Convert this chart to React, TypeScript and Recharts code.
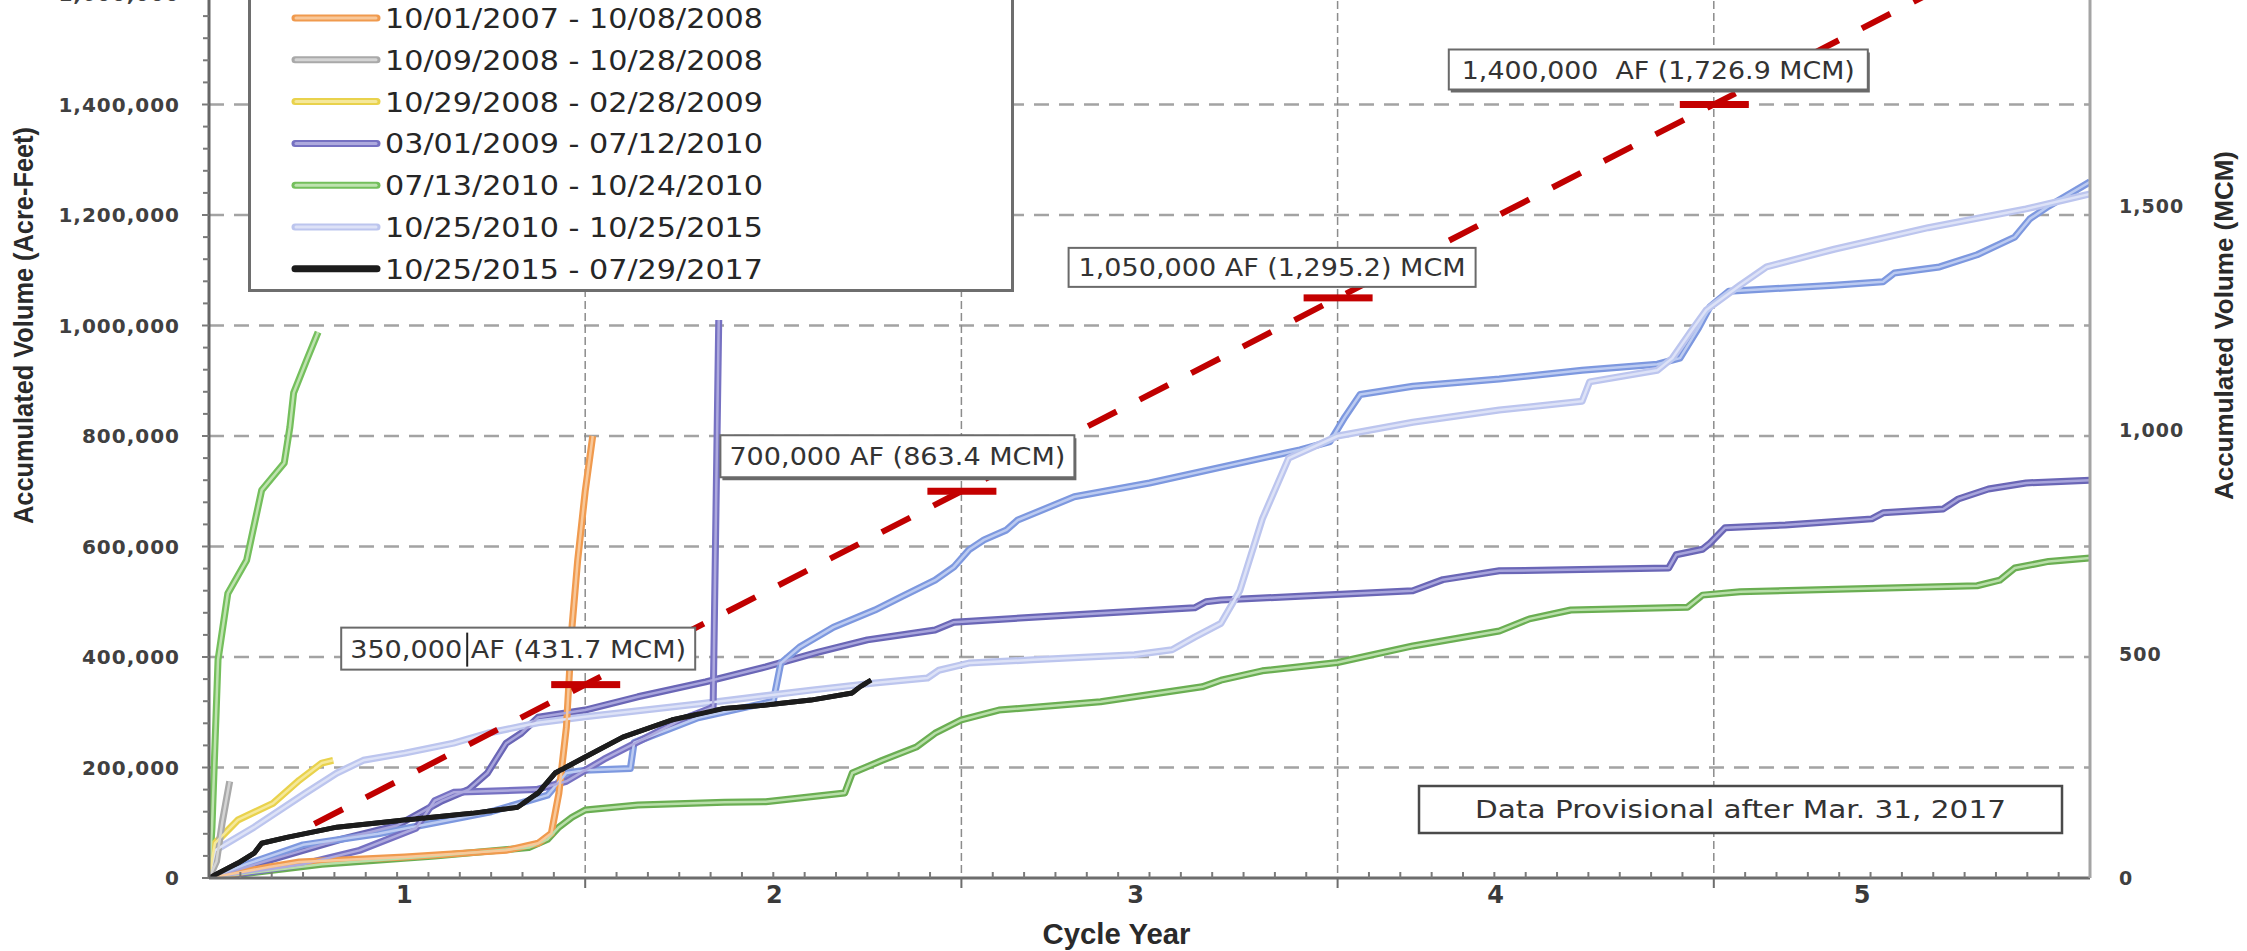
import React from "react";
import {
  ComposedChart,
  Line,
  XAxis,
  YAxis,
  CartesianGrid,
  Legend,
  Scatter,
  ReferenceDot,
  Label,
} from "recharts";

type Pt = { t: number; v: number };
const P = (pairs: number[][]): Pt[] => pairs.map(([t, v]) => ({ t, v }));

// ---------- data (cycle year, acre-feet) ----------
const orangeData = P([
  [0, 0], [0.08, 10000], [0.16, 20000], [0.24, 29000], [0.52, 38000], [0.79, 50000],
  [0.875, 63000], [0.91, 81000], [0.93, 153000], [0.95, 273000], [0.965, 455000],
  [0.98, 575000], [1.0, 700000], [1.02, 800000],
]);
const grayData = P([[0, 0], [0.02, 30000], [0.035, 100000], [0.055, 175000]]);
const yellowData = P([
  [0, 0], [0.01, 40000], [0.016, 63000], [0.077, 105000], [0.17, 135000],
  [0.24, 177000], [0.3, 208000], [0.33, 213000],
]);
const purpleData = P([
  [0, 0], [0.1, 10000], [0.25, 25000], [0.4, 50000], [0.55, 90000], [0.6, 140000],
  [0.65, 155000], [0.87, 160000], [0.95, 175000], [1.05, 215000], [1.15, 250000],
  [1.25, 285000], [1.34, 309000], [1.355, 1010000],
]);
const greenData = P([
  [0, 0], [0.008, 92000], [0.024, 395000], [0.05, 515000], [0.1, 575000], [0.14, 702000],
  [0.2, 751000], [0.215, 816000], [0.225, 878000], [0.26, 938000], [0.29, 988000],
]);
const lavenderData = P([
  [0, 0], [0.016, 50000], [0.12, 92000], [0.255, 153000], [0.34, 190000], [0.41, 213000],
  [0.52, 226000], [0.65, 244000], [0.74, 262000], [0.875, 281000], [1.0, 292000],
  [1.3, 315000], [1.6, 340000], [1.77, 353000], [1.91, 362000], [1.94, 376000],
  [2.02, 389000], [2.19, 395000], [2.46, 404000], [2.56, 413000], [2.62, 436000],
  [2.69, 461000], [2.74, 520000], [2.8, 650000], [2.87, 760000], [3.0, 800000],
  [3.2, 825000], [3.43, 847000], [3.65, 863000], [3.67, 898000], [3.85, 919000],
  [3.89, 941000], [3.94, 990000], [3.98, 1028000], [4.07, 1073000], [4.14, 1106000],
  [4.32, 1138000], [4.57, 1177000], [4.83, 1211000], [5.0, 1238000],
]);
const blackData = P([
  [0, 0], [0.077, 27000], [0.12, 45000], [0.14, 63000], [0.21, 74000], [0.34, 92000],
  [0.52, 105000], [0.7, 117000], [0.82, 128000], [0.875, 154000], [0.92, 190000],
  [1.0, 219000], [1.1, 255000], [1.23, 286000], [1.37, 307000], [1.48, 313000],
  [1.6, 322000], [1.71, 335000], [1.73, 346000], [1.76, 358000],
]);
// cycles whose legend entries lie above the visible part of the legend
const blueData = P([
  [0, 0], [0.1, 25000], [0.25, 60000], [0.45, 80000], [0.6, 100000], [0.75, 120000],
  [0.9, 150000], [0.95, 190000], [1.0, 195000], [1.12, 198000], [1.13, 245000],
  [1.3, 290000], [1.5, 320000], [1.52, 389000], [1.57, 418000], [1.66, 454000],
  [1.77, 485000], [1.84, 509000], [1.93, 539000], [1.98, 563000], [2.02, 594000],
  [2.06, 612000], [2.12, 630000], [2.15, 648000], [2.3, 690000], [2.5, 715000],
  [2.7, 745000], [2.9, 775000], [2.98, 790000], [3.02, 835000], [3.06, 875000],
  [3.2, 890000], [3.43, 903000], [3.65, 919000], [3.85, 930000], [3.91, 941000],
  [3.96, 996000], [3.99, 1034000], [4.04, 1062000], [4.32, 1073000], [4.45, 1079000],
  [4.48, 1095000], [4.6, 1106000], [4.7, 1128000], [4.8, 1160000], [4.84, 1193000],
  [4.89, 1216000], [5.0, 1260000],
]);
const longPurpleData = P([
  [0, 0], [0.1, 20000], [0.2, 40000], [0.35, 70000], [0.5, 95000], [0.62, 140000],
  [0.69, 160000], [0.74, 190000], [0.79, 244000], [0.83, 262000], [0.875, 291000],
  [1.0, 304000], [1.14, 328000], [1.32, 355000], [1.48, 382000], [1.62, 409000],
  [1.75, 431000], [1.93, 449000], [1.98, 463000], [2.19, 472000], [2.37, 479000],
  [2.62, 489000], [2.65, 500000], [2.69, 503000], [2.9, 510000], [3.2, 520000],
  [3.28, 540000], [3.43, 556000], [3.88, 561000], [3.9, 585000], [3.97, 595000],
  [3.99, 606000], [4.03, 634000], [4.19, 639000], [4.42, 650000], [4.45, 661000],
  [4.61, 668000], [4.65, 686000], [4.73, 704000], [4.83, 715000], [5.0, 720000],
]);
const longGreenData = P([
  [0, 0], [0.3, 25000], [0.6, 40000], [0.85, 55000], [0.9, 70000], [0.93, 92000],
  [0.965, 110000], [1.0, 123000], [1.14, 132000], [1.37, 137000], [1.48, 138000],
  [1.69, 154000], [1.71, 190000], [1.79, 213000], [1.88, 237000], [1.93, 262000],
  [2.0, 286000], [2.1, 304000], [2.37, 319000], [2.64, 346000], [2.69, 358000],
  [2.8, 375000], [3.0, 390000], [3.2, 420000], [3.43, 447000], [3.51, 469000],
  [3.62, 485000], [3.93, 490000], [3.97, 512000], [4.07, 518000], [4.7, 529000],
  [4.76, 539000], [4.8, 561000], [4.89, 573000], [5.0, 579000],
]);
const targetLineData = P([[0.28, 98000], [5.0, 1750000]]);
const targetValues = [
  { t: 1, v: 350000, label: "350,000 AF (431.7 MCM)" },
  { t: 2, v: 700000, label: "700,000 AF (863.4 MCM)" },
  { t: 3, v: 1050000, label: "1,050,000 AF (1,295.2) MCM" },
  { t: 4, v: 1400000, label: "1,400,000  AF (1,726.9 MCM)" },
];
const provisionalNote = { t: 3.2164, v: 166500, label: "Data Provisional after Mar. 31, 2017" };

// ---------- axes ----------
const xTickLabels = ["1", "2", "3", "4", "5"];
const xLabelPositions = [0.519, 1.503, 2.463, 3.42, 4.394];
const xGridValues = [1, 2, 3, 4];
const monthTicks = Array.from({ length: 59 }, (_, k) => (k + 1) / 12);
const xTicks = [...monthTicks, ...xLabelPositions];

const yLeftTickValues = [0, 200000, 400000, 600000, 800000, 1000000, 1200000, 1400000, 1600000];
const yLeftTickLabels = ["0", "200,000", "400,000", "600,000", "800,000", "1,000,000", "1,200,000", "1,400,000", "1,600,000"];
const yMinorTicks = Array.from({ length: 51 }, (_, k) => k * 40000).filter((v) => v % 200000 !== 0);
const yLeftTicks = [...yLeftTickValues, ...yMinorTicks];
const yGridValues = [200000, 400000, 600000, 800000, 1000000, 1200000, 1400000, 1600000, 1800000];
const yRightTickValues = [0, 500, 1000, 1500];
const yRightTickLabels = ["0", "500", "1,000", "1,500"];

// ---------- styles ----------
type Series = { name: string; data: Pt[]; outer: string; inner: string; single?: boolean };
const legendSeries: Series[] = [
  { name: "10/01/2007 - 10/08/2008", data: orangeData, outer: "#f09a4e", inner: "#f8c89a" },
  { name: "10/09/2008 - 10/28/2008", data: grayData, outer: "#a9a9a9", inner: "#d4d4d4" },
  { name: "10/29/2008 - 02/28/2009", data: yellowData, outer: "#e9d24c", inner: "#f5e89a" },
  { name: "03/01/2009 - 07/12/2010", data: purpleData, outer: "#7671c2", inner: "#aeaade" },
  { name: "07/13/2010 - 10/24/2010", data: greenData, outer: "#74bf5c", inner: "#bfe3b0" },
  { name: "10/25/2010 - 10/25/2015", data: lavenderData, outer: "#bcc5ee", inner: "#dde2f7" },
  { name: "10/25/2015 - 07/29/2017", data: blackData, outer: "#1c1c1c", inner: "#1c1c1c", single: true },
];
const hiddenSeries: Series[] = [
  { name: "cycle-a", data: longGreenData, outer: "#6aae52", inner: "#b9dfaa" },
  { name: "cycle-b", data: longPurpleData, outer: "#6a66b6", inner: "#a8a5dc" },
  { name: "cycle-c", data: blueData, outer: "#7d98df", inner: "#bccbf1" },
];
const drawOrder: Series[] = [
  hiddenSeries[0], legendSeries[4], hiddenSeries[1], hiddenSeries[2], legendSeries[5],
  legendSeries[3], legendSeries[2], legendSeries[1], legendSeries[0], legendSeries[6],
];
const targetBoxStyles = [
  { dx: -244, dy: -57, w: 354, h: 42, tw: 336, shadow: false, cursor: 126 },
  { dx: -241, dy: -56, w: 354, h: 42, tw: 336, shadow: true, cursor: 0 },
  { dx: -269, dy: -50, w: 407, h: 39, tw: 387, shadow: false, cursor: 0 },
  { dx: -265, dy: -55, w: 419, h: 40, tw: 393, shadow: true, cursor: 0 },
];

const TEXT_FONT = "'DejaVu Sans', 'Liberation Sans', sans-serif";
const TITLE_FONT = "'Liberation Sans', Arial, sans-serif";
const W = 2247;
const H = 1178;

// ---------- renderers ----------
const XTick = (props: any) => {
  const { x, y, payload } = props;
  const v = payload.value;
  const li = xLabelPositions.indexOf(v);
  if (li >= 0) {
    return (
      <text x={x} y={y + 25} textAnchor="middle" fontFamily={TEXT_FONT} fontWeight="bold" fontSize={24} fill="#3a3a3a">
        {xTickLabels[li]}
      </text>
    );
  }
  if (Math.abs(v - Math.round(v)) < 1e-9) {
    return <line x1={x} x2={x} y1={y} y2={y + 10} stroke="#6d6d6d" strokeWidth={2} />;
  }
  return <line x1={x} x2={x} y1={y} y2={y - 6} stroke="#7a7a7a" strokeWidth={2} />;
};

const YLeftTick = (props: any) => {
  const { x, y, payload } = props;
  const v = payload.value;
  const li = yLeftTickValues.indexOf(v);
  if (li >= 0) {
    return (
      <g>
        <line x1={x - 7} x2={x} y1={y} y2={y} stroke="#7a7a7a" strokeWidth={2} />
        <text x={x - 29} y={y} dy="0.36em" textAnchor="end" fontFamily={TEXT_FONT} fontWeight="bold" fontSize={20} letterSpacing={1} fill="#404040">
          {yLeftTickLabels[li]}
        </text>
      </g>
    );
  }
  return <line x1={x - 6} x2={x} y1={y} y2={y} stroke="#7a7a7a" strokeWidth={2} />;
};

const YRightTick = (props: any) => {
  const { x, y, payload } = props;
  const li = yRightTickValues.indexOf(payload.value);
  return (
    <text x={x + 29} y={y} dy="0.36em" textAnchor="start" fontFamily={TEXT_FONT} fontWeight="bold" fontSize={19} letterSpacing={1} fill="#404040">
      {yRightTickLabels[li]}
    </text>
  );
};

const XTitle = (p: any) => {
  const vb = p.viewBox || { x: 209, y: 1105, width: 1881, height: 73 };
  return (
    <text x={vb.x + vb.width / 2 - 33} y={vb.y + 66} textAnchor="middle" fontFamily={TITLE_FONT} fontWeight="bold" fontSize={29} textLength={148} lengthAdjust="spacingAndGlyphs" fill="#2a2a2a">
      Cycle Year
    </text>
  );
};

const LeftTitle = (p: any) => {
  const vb = p.viewBox || { x: 0, y: 0, width: 209, height: 1105 };
  const cx = vb.x + 33;
  const cy = vb.y + vb.height / 2;
  return (
    <text x={cx} y={cy} transform={`rotate(-90 ${cx} ${cy})`} textAnchor="middle" fontFamily={TITLE_FONT} fontWeight="bold" fontSize={28} textLength={397} lengthAdjust="spacingAndGlyphs" fill="#2a2a2a">
      Accumulated Volume (Acre-Feet)
    </text>
  );
};

const RightTitle = (p: any) => {
  const vb = p.viewBox || { x: 2090, y: 0, width: 157, height: 1105 };
  const cx = vb.x + 143;
  const cy = vb.y + vb.height / 2;
  return (
    <text x={cx} y={cy} transform={`rotate(-90 ${cx} ${cy})`} textAnchor="middle" fontFamily={TITLE_FONT} fontWeight="bold" fontSize={26} textLength={349} lengthAdjust="spacingAndGlyphs" fill="#2a2a2a">
      Accumulated Volume (MCM)
    </text>
  );
};

const TargetShape = (props: any) => {
  const { cx, cy, payload } = props;
  const idx = targetValues.findIndex((d) => d.t === payload.t);
  const s = targetBoxStyles[idx] || targetBoxStyles[0];
  const bx = cx + s.dx;
  const by = cy + s.dy;
  return (
    <g>
      <rect x={cx - 34} y={cy - 3.5} width={69} height={7} fill="#c40000" />
      {s.shadow && <rect x={bx + 2} y={by + 3} width={s.w} height={s.h} fill="#6a6a6a" />}
      <rect x={bx} y={by} width={s.w} height={s.h} fill="#ffffff" stroke="#6a6a6a" strokeWidth={2} />
      <text x={bx + s.w / 2} y={by + s.h / 2 + 9} textAnchor="middle" fontFamily={TEXT_FONT} fontSize={25} textLength={s.tw} lengthAdjust="spacingAndGlyphs" fill="#333333" style={{ whiteSpace: "pre" }}>
        {payload.label}
      </text>
      {s.cursor > 0 && <line x1={bx + s.cursor} x2={bx + s.cursor} y1={by + 5} y2={by + s.h - 3} stroke="#222" strokeWidth={2} />}
    </g>
  );
};

const NoteShape = (props: any) => {
  const { cx, cy } = props;
  return (
    <g>
      <rect x={cx} y={cy} width={643} height={47} fill="#ffffff" stroke="#4a4a4a" strokeWidth={2.5} />
      <text x={cx + 321.5} y={cy + 32} textAnchor="middle" fontFamily={TEXT_FONT} fontSize={25} textLength={531} lengthAdjust="spacingAndGlyphs" fill="#333333">
        {provisionalNote.label}
      </text>
    </g>
  );
};

const LegendBox = () => (
  <svg width={766} height={342} style={{ display: "block" }}>
    <rect x={1.5} y={1.5} width={763} height={339} fill="#ffffff" stroke="#6e6e6e" strokeWidth={3} />
    {legendSeries.map((s, i) => {
      const cy = 68 + i * 41.8;
      return (
        <g key={s.name}>
          <line x1={47} x2={129} y1={cy} y2={cy} stroke={s.outer} strokeWidth={7} strokeLinecap="round" />
          {!s.single && <line x1={48} x2={128} y1={cy} y2={cy} stroke={s.inner} strokeWidth={3} strokeLinecap="round" />}
          <text x={137} y={cy + 10} fontFamily={TEXT_FONT} fontSize={27} textLength={378} lengthAdjust="spacingAndGlyphs" fill="#262626">
            {s.name}
          </text>
        </g>
      );
    })}
  </svg>
);

export default function App() {
  return (
    <div style={{ position: "absolute", left: 0, top: -227, width: W, height: H, overflow: "hidden", background: "#ffffff" }}>
      <ComposedChart width={W} height={H} margin={{ top: 0, right: 0, bottom: 0, left: 0 }}>
        <CartesianGrid yAxisId="af" vertical={false} horizontalValues={yGridValues} stroke="#a3a3a3" strokeWidth={2.5} strokeDasharray="15 10" />
        <CartesianGrid yAxisId="af" horizontal={false} verticalValues={xGridValues} stroke="#8c8c8c" strokeWidth={1.5} strokeDasharray="8 4" />
        <XAxis
          type="number"
          dataKey="t"
          domain={[0, 5]}
          allowDataOverflow
          ticks={xTicks}
          interval={0}
          tick={XTick}
          tickLine={false}
          tickSize={0}
          tickMargin={0}
          height={73}
          axisLine={{ stroke: "#6d6d6d", strokeWidth: 3 }}
        >
          <Label content={XTitle} />
        </XAxis>
        <YAxis
          yAxisId="af"
          dataKey="v"
          type="number"
          domain={[0, 2000000]}
          allowDataOverflow
          ticks={yLeftTicks}
          interval={0}
          tick={YLeftTick}
          tickLine={false}
          tickSize={0}
          tickMargin={0}
          width={209}
          axisLine={{ stroke: "#676767", strokeWidth: 3 }}
        >
          <Label content={LeftTitle} />
        </YAxis>
        <YAxis
          yAxisId="mcm"
          orientation="right"
          type="number"
          domain={[0, 2467]}
          allowDataOverflow
          ticks={yRightTickValues}
          interval={0}
          tick={YRightTick}
          tickLine={false}
          tickSize={0}
          tickMargin={0}
          width={157}
          axisLine={{ stroke: "#a4a4a4", strokeWidth: 3 }}
        >
          <Label content={RightTitle} />
        </YAxis>

        {drawOrder.map((s) => (
          <Line
            key={s.name + "-outer"}
            yAxisId="af"
            data={s.data}
            dataKey="v"
            name={s.name}
            type="linear"
            stroke={s.outer}
            strokeWidth={s.single ? 5 : 7}
            strokeLinejoin="round"
            dot={false}
            activeDot={false}
            legendType="none"
            isAnimationActive={false}
          />
        ))}
        {drawOrder.filter((s) => !s.single).map((s) => (
          <Line
            key={s.name + "-inner"}
            yAxisId="af"
            data={s.data}
            dataKey="v"
            name={s.name + " inner"}
            type="linear"
            stroke={s.inner}
            strokeWidth={2.5}
            strokeLinejoin="round"
            dot={false}
            activeDot={false}
            legendType="none"
            isAnimationActive={false}
          />
        ))}
        <Line
          yAxisId="af"
          data={blackData}
          dataKey="v"
          name="black-top"
          type="linear"
          stroke="#1c1c1c"
          strokeWidth={5}
          strokeLinejoin="round"
          dot={false}
          activeDot={false}
          legendType="none"
          isAnimationActive={false}
        />
        <Line
          yAxisId="af"
          data={targetLineData}
          dataKey="v"
          name="target"
          type="linear"
          stroke="#c00000"
          strokeWidth={6}
          strokeDasharray="32 26"
          dot={false}
          activeDot={false}
          legendType="none"
          isAnimationActive={false}
        />
        <Scatter yAxisId="af" data={targetValues} dataKey="v" shape={TargetShape} legendType="none" isAnimationActive={false} />
        <ReferenceDot yAxisId="af" x={provisionalNote.t} y={provisionalNote.v} r={0} shape={NoteShape} ifOverflow="visible" />
        <Legend
          layout="vertical"
          align="center"
          verticalAlign="middle"
          content={LegendBox}
          wrapperStyle={{ position: "absolute", left: 248, top: 177, width: 766, height: 342, margin: 0, padding: 0 }}
        />
      </ComposedChart>
    </div>
  );
}
